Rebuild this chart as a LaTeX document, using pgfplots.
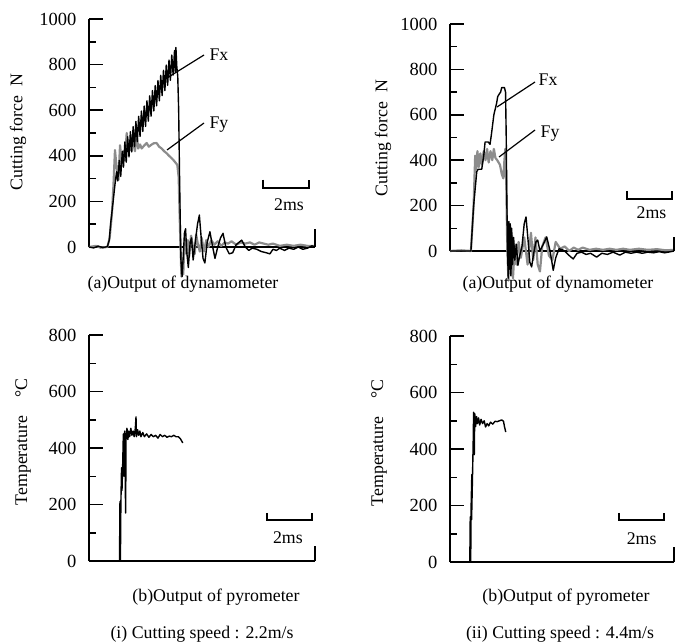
\documentclass[border=0pt]{standalone}
\usepackage{fontspec}
\setmainfont{Liberation Serif}
\usepackage{pgfplots}
\pgfplotsset{compat=1.18}
\newcommand\fs{\fontsize{17.8bp}{21bp}\selectfont}
\newcommand\ts{\fontsize{18.5bp}{22bp}\selectfont}
\definecolor{fygray}{rgb}{0.55,0.55,0.55}
\pgfplotsset{panel/.style={
  scale only axis, axis lines=left, axis line style={line width=1.8bp,-},
  xtick=\empty, xmin=0, ymin=0, tick align=inside,
  major tick length=14bp, minor tick length=7bp, minor y tick num=1,
  every tick/.style={black, line width=1.5bp},
  tick label style={font=\ts}, yticklabel style={xshift=-9bp},
  /pgf/number format/assume math mode=true, /pgf/number format/1000 sep={},
  clip=false, anchor=south west},
  fx/.style={black, line width=1.4bp, line join=round},
  fy/.style={fygray, line width=2.2bp, line join=round}}
\begin{document}
\begin{tikzpicture}
\path[use as bounding box] (0,0) rectangle (683bp,-644bp);
% ---------- panel 1
\begin{axis}[panel, at={(89bp,-247bp)}, width=226bp, height=228bp, xmax=9.83, ymax=1000, ytick={0,200,...,1000}]
\addplot[fy] coordinates {(0,0)(0.3,5)(0.5,-3)(0.8,0)(0.9,40)(1.0,150)(1.06,263)(1.13,425)(1.2,350)(1.28,294)(1.35,446)(1.42,373)(1.5,420)(1.56,380)(1.64,500)(1.70,430)(1.78,425)(1.85,480)(1.93,456)(2.0,420)(2.07,500)(2.14,432)(2.22,450)(2.29,432)(2.4,445)(2.51,456)(2.6,440)(2.72,449)(2.82,455)(2.94,456)(3.05,440)(3.16,432)(3.27,420)(3.38,411)(3.48,400)(3.59,390)(3.70,378)(3.84,360)(3.90,307)(3.94,150)(3.98,0)(4.02,-130)(4.06,-60)(4.10,-120)(4.14,0)(4.18,40)(4.24,-30)(4.30,30)(4.36,-40)(4.44,50)(4.52,0)(4.60,-30)(4.66,55)(4.74,10)(4.82,-20)(4.90,40)(5.00,-20)(5.10,30)(5.20,0)(5.32,30)(5.45,10)(5.60,25)(5.75,5)(5.90,20)(6.05,15)(6.20,25)(6.40,10)(6.60,20)(6.80,15)(7.00,20)(7.20,10)(7.40,20)(7.60,15)(7.80,10)(8.00,15)(8.30,5)(8.60,10)(8.90,5)(9.20,10)(9.50,5)(9.83,5)};
\addplot[fx] coordinates {(0,0)(0.2,-4)(0.4,4)(0.6,-3)(0.8,2)(0.88,30)(0.95,110)(1.05,200)(1.13,275)(1.2,330)(1.25,290)(1.32,380)(1.38,310)(1.45,420)(1.50,350)(1.56,461)(1.62,372)(1.68,484)(1.74,395)(1.80,506)(1.86,417)(1.92,528)(1.98,440)(2.04,551)(2.10,462)(2.16,573)(2.22,485)(2.28,596)(2.34,507)(2.40,618)(2.46,529)(2.52,641)(2.58,552)(2.64,663)(2.70,574)(2.76,686)(2.82,597)(2.88,708)(2.94,619)(3.00,730)(3.06,641)(3.12,753)(3.18,664)(3.24,775)(3.30,686)(3.36,798)(3.42,709)(3.48,820)(3.54,731)(3.60,842)(3.66,754)(3.72,862)(3.76,770)(3.78,875)(3.82,790)(3.86,750)(3.90,600)(3.94,300)(3.97,100)(4.00,-60)(4.05,-130)(4.10,-40)(4.15,60)(4.20,80)(4.25,-20)(4.32,-90)(4.40,20)(4.46,40)(4.53,-57)(4.62,20)(4.72,100)(4.80,140)(4.88,40)(4.96,-50)(5.04,-70)(5.14,20)(5.26,67)(5.36,10)(5.48,-50)(5.60,0)(5.72,40)(5.83,60)(5.95,0)(6.10,-30)(6.25,-25)(6.40,10)(6.52,20)(6.64,30)(6.80,0)(6.95,-15)(7.10,-5)(7.30,-10)(7.50,-20)(7.70,-25)(7.87,-30)(8.00,-10)(8.15,-15)(8.30,-5)(8.50,-15)(8.70,-5)(8.90,-10)(9.10,0)(9.30,-10)(9.50,-5)(9.70,5)(9.83,0)};
\draw[line width=1.8bp] (axis cs:9.83,0) -- (axis cs:9.83,80);
\draw[line width=1.4bp] (axis cs:7.57,295) -- (axis cs:7.57,259) -- (axis cs:9.57,259) -- (axis cs:9.57,295);
\node[font=\fs] at (axis cs:8.7,184) {2ms};
\end{axis}
% ---------- panel 2
\begin{axis}[panel, at={(450bp,-251bp)}, width=224bp, height=227bp, xmax=9.96, ymax=1000, ytick={0,200,...,1000}]
\addplot[fy] coordinates {(0,0)(0.5,3)(0.93,0)(1.05,200)(1.12,420)(1.16,360)(1.22,440)(1.28,370)(1.35,430)(1.42,380)(1.50,440)(1.58,400)(1.65,450)(1.72,390)(1.80,440)(1.88,400)(1.95,450)(2.02,410)(2.10,400)(2.22,380)(2.30,340)(2.37,320)(2.42,400)(2.46,450)(2.50,300)(2.55,0)(2.60,-130)(2.65,100)(2.70,-100)(2.75,80)(2.80,-120)(2.88,30)(2.95,-60)(3.05,40)(3.15,-30)(3.30,60)(3.45,-60)(3.60,80)(3.70,-40)(3.80,60)(3.90,-60)(4.00,-90)(4.10,20)(4.25,60)(4.40,-20)(4.55,-40)(4.70,40)(4.90,10)(5.10,20)(5.30,0)(5.50,15)(5.70,5)(5.90,15)(6.20,5)(6.50,10)(6.80,5)(7.10,10)(7.40,5)(7.70,10)(8.00,5)(8.40,10)(8.80,5)(9.20,8)(9.60,3)(9.96,5)};
\addplot[fx] coordinates {(0,0)(0.5,0)(0.93,0)(1.05,200)(1.19,350)(1.25,360)(1.41,360)(1.5,420)(1.56,480)(1.70,480)(1.78,470)(1.85,520)(1.95,600)(2.07,650)(2.12,680)(2.18,690)(2.25,700)(2.30,720)(2.42,720)(2.47,700)(2.50,500)(2.53,200)(2.56,0)(2.59,-120)(2.62,130)(2.65,-80)(2.68,120)(2.71,-110)(2.74,100)(2.78,-60)(2.83,60)(2.88,-40)(2.95,30)(3.02,-63)(3.10,-20)(3.20,20)(3.30,120)(3.38,150)(3.46,60)(3.55,-50)(3.63,-70)(3.72,-10)(3.82,40)(3.90,48)(4.00,0)(4.15,30)(4.30,62)(4.45,0)(4.59,-85)(4.70,-30)(4.85,10)(5.00,5)(5.10,0)(5.30,-20)(5.48,-35)(5.65,-10)(5.85,-5)(6.05,-15)(6.25,-10)(6.52,-27)(6.75,-10)(7.00,-15)(7.25,-5)(7.55,-18)(7.80,-5)(8.05,-10)(8.30,-5)(8.55,-10)(8.80,-5)(9.05,-8)(9.30,-3)(9.55,-8)(9.96,0)};
\draw[line width=1.8bp] (axis cs:9.96,0) -- (axis cs:9.96,60);
\draw[line width=1.4bp] (axis cs:7.87,265) -- (axis cs:7.87,229) -- (axis cs:9.87,229) -- (axis cs:9.87,265);
\node[font=\fs] at (axis cs:8.96,167) {2ms};
\end{axis}
% ---------- panel 3
\begin{axis}[panel, at={(89bp,-561bp)}, width=226bp, height=226bp, xmax=10, ymax=800, ytick={0,200,...,800}]
\addplot[fx] coordinates {(1.35,0)(1.37,210)(1.39,0)(1.41,200)(1.44,330)(1.46,250)(1.49,340)(1.52,450)(1.55,300)(1.58,460)(1.62,170)(1.64,440)(1.68,470)(1.72,430)(1.76,460)(1.80,440)(1.85,470)(1.90,445)(1.95,460)(2.00,440)(2.05,470)(2.08,510)(2.10,440)(2.15,465)(2.20,445)(2.25,460)(2.30,440)(2.38,455)(2.45,440)(2.55,450)(2.65,438)(2.75,448)(2.85,440)(2.95,445)(3.05,435)(3.15,448)(3.25,440)(3.35,445)(3.45,438)(3.55,442)(3.65,440)(3.75,445)(3.85,440)(3.95,440)(4.05,432)(4.15,418)};
\draw[line width=1.8bp] (axis cs:10,0) -- (axis cs:10,53);
\draw[line width=1.4bp] (axis cs:7.88,170) -- (axis cs:7.88,145) -- (axis cs:9.87,145) -- (axis cs:9.87,170);
\node[font=\fs] at (axis cs:8.8,82) {2ms};
\end{axis}
% ---------- panel 4
\begin{axis}[panel, at={(450bp,-562bp)}, width=224bp, height=226bp, xmax=9.96, ymax=800, ytick={0,200,...,800}]
\addplot[fx] coordinates {(0.88,0)(0.90,160)(0.92,0)(0.94,200)(0.97,310)(0.96,150)(1.00,300)(1.03,420)(1.05,530)(1.08,380)(1.10,525)(1.14,480)(1.18,515)(1.22,490)(1.27,510)(1.32,485)(1.38,505)(1.45,490)(1.52,500)(1.58,478)(1.65,490)(1.72,482)(1.80,495)(1.90,488)(2.00,498)(2.10,497)(2.20,500)(2.30,503)(2.38,498)(2.42,480)(2.48,460)};
\draw[line width=1.8bp] (axis cs:9.96,0) -- (axis cs:9.96,53);
\draw[line width=1.4bp] (axis cs:7.51,174) -- (axis cs:7.51,149) -- (axis cs:9.51,149) -- (axis cs:9.51,174);
\node[font=\fs] at (axis cs:8.52,84) {2ms};
\end{axis}
% ---------- annotations
\draw[line width=1.2bp] (204bp,-55bp) -- (167bp,-78bp);
\draw[line width=1.2bp] (204bp,-123bp) -- (167bp,-150bp);
\node[font=\fs] at (219bp,-55bp) {Fx};
\node[font=\fs] at (219bp,-125bp) {Fy};
\draw[line width=1.2bp] (535bp,-82bp) -- (497bp,-107bp);
\draw[line width=1.2bp] (535bp,-130bp) -- (499bp,-157bp);
\node[font=\fs] at (548bp,-80bp) {Fx};
\node[font=\fs] at (550bp,-134bp) {Fy};
\node[font=\fs, rotate=90] at (18bp,-132bp) {Cutting force\enspace N};
\node[font=\fs, rotate=90] at (383bp,-138bp) {Cutting force\enspace N};
\node[font=\fs, rotate=90] at (23bp,-442bp) {Temperature\quad °C};
\node[font=\fs, rotate=90] at (379bp,-443bp) {Temperature\quad °C};
\node[font=\fs] at (183bp,-284bp) {(a)Output of dynamometer};
\node[font=\fs] at (558bp,-284bp) {(a)Output of dynamometer};
\node[font=\fs] at (216bp,-597bp) {(b)Output of pyrometer};
\node[font=\fs] at (566bp,-597bp) {(b)Output of pyrometer};
\node[font=\fs] at (202bp,-634bp) {(i) Cutting speed : 2.2m/s};
\node[font=\fs] at (560bp,-634bp) {(ii) Cutting speed : 4.4m/s};
\end{tikzpicture}
\end{document}
